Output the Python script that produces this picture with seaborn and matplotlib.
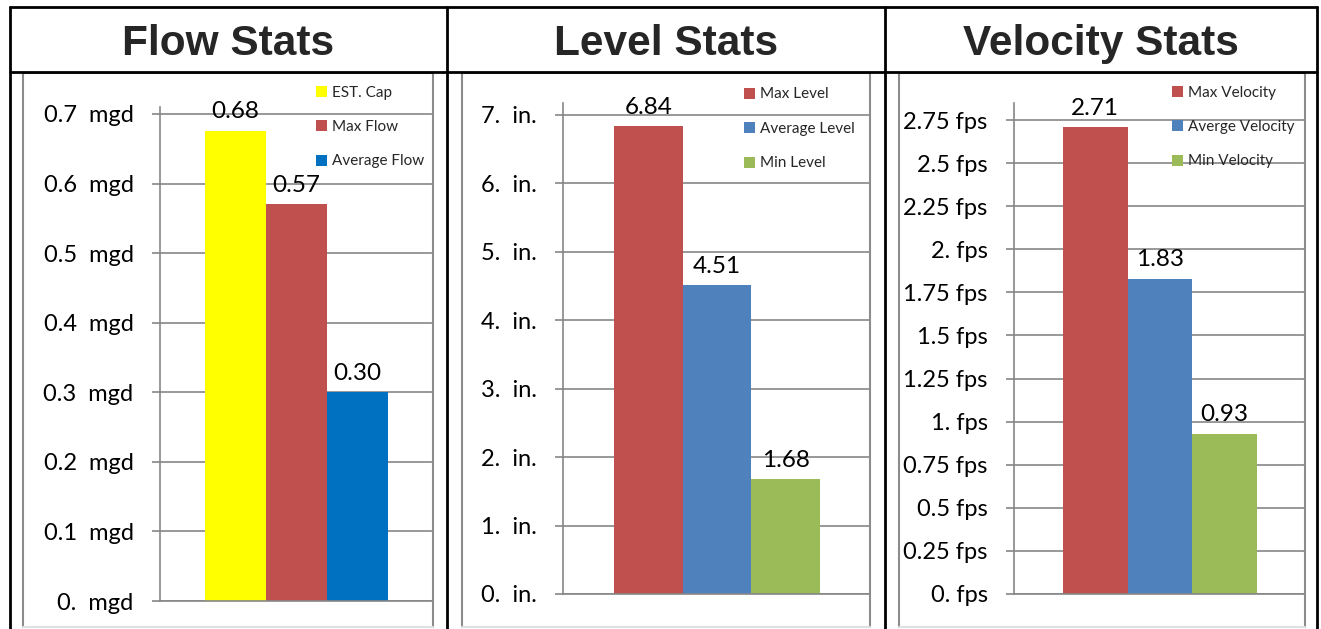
import matplotlib
matplotlib.use("Agg")
import matplotlib.pyplot as plt
import seaborn as sns
import pandas as pd
from matplotlib.patches import Patch
from matplotlib.lines import Line2D
from matplotlib.ticker import FixedLocator, FixedFormatter

# ---------------- data ----------------
titles = ["Flow Stats", "Level Stats", "Velocity Stats"]

flow_names = ["EST. Cap", "Max Flow", "Average Flow"]
flow_values = [0.676, 0.57, 0.30]
flow_ticks = [0, 0.1, 0.2, 0.3, 0.4, 0.5, 0.6, 0.7]
flow_tick_labels = ["0.  mgd", "0.1  mgd", "0.2  mgd", "0.3  mgd",
                    "0.4  mgd", "0.5  mgd", "0.6  mgd", "0.7  mgd"]

level_names = ["Max Level", "Average Level", "Min Level"]
level_values = [6.84, 4.51, 1.68]
level_ticks = [0, 1, 2, 3, 4, 5, 6, 7]
level_tick_labels = ["0.  in.", "1.  in.", "2.  in.", "3.  in.",
                     "4.  in.", "5.  in.", "6.  in.", "7.  in."]

velocity_names = ["Max Velocity", "Averge Velocity", "Min Velocity"]
velocity_values = [2.71, 1.83, 0.93]
velocity_ticks = [0, 0.25, 0.5, 0.75, 1.0, 1.25, 1.5, 1.75, 2.0, 2.25, 2.5, 2.75]
velocity_tick_labels = ["0. fps", "0.25 fps", "0.5 fps", "0.75 fps", "1. fps",
                        "1.25 fps", "1.5 fps", "1.75 fps", "2. fps", "2.25 fps",
                        "2.5 fps", "2.75 fps"]

# ---------------- styles ----------------
flow_colors = ["#FFFF00", "#C0504D", "#0070C0"]
level_colors = ["#C0504D", "#4F81BD", "#9BBB59"]
velocity_colors = ["#C0504D", "#4F81BD", "#9BBB59"]

sns.set_style("white")
plt.rcParams["font.family"] = ["Lato", "DejaVu Sans"]

W, H = 1321, 629
fig = plt.figure(figsize=(W / 100, H / 100), dpi=100)
fig.patch.set_facecolor("white")

GRID = "#868686"


def fx(x):
    return x / W


def fy(y):
    return 1 - y / H


# layout (pixels): axes box, bar extents, ylim top, legend anchor, frame
panels = [
    dict(names=flow_names, values=flow_values, colors=flow_colors,
         ticks=flow_ticks, labels=flow_tick_labels,
         ax=(160, 107, 432, 601), bars=(205, 388), ytop=0.71,
         leg=(316, 85.5), frame=(23, 73, 433, 627), title_x=228.5),
    dict(names=level_names, values=level_values, colors=level_colors,
         ticks=level_ticks, labels=level_tick_labels,
         ax=(563, 103, 869, 594), bars=(614, 820), ytop=7.175,
         leg=(744, 87.5), frame=(462, 73, 870, 627), title_x=666),
    dict(names=velocity_names, values=velocity_values, colors=velocity_colors,
         ticks=velocity_ticks, labels=velocity_tick_labels,
         ax=(1014, 103, 1304, 594), bars=(1063, 1257), ytop=2.849,
         leg=(1172, 85.5), frame=(899, 73, 1305, 627), title_x=1101),
]

for p in panels:
    l, t, r, b = p["ax"]
    ax = fig.add_axes([fx(l), fy(b), (r - l) / W, (b - t) / H])
    df = pd.DataFrame({"name": p["names"], "value": p["values"]})
    sns.barplot(data=df, x="name", y="value", hue="name", order=p["names"],
                hue_order=p["names"], palette=p["colors"], width=1.0,
                saturation=1, linewidth=0, legend=False, ax=ax)
    bl, br = p["bars"]
    unit = (br - bl) / 3.0
    ax.set_xlim(-0.5 - (bl - l) / unit, 2.5 + (r - br) / unit)
    ax.set_ylim(0, p["ytop"])
    ax.set_xlabel("")
    ax.set_ylabel("")
    ax.set_xticks([])
    ax.yaxis.set_major_locator(FixedLocator(p["ticks"]))
    ax.yaxis.set_major_formatter(FixedFormatter(p["labels"]))
    ax.tick_params(axis="y", left=True, length=6, width=1.2, color=GRID,
                   direction="out", pad=13, labelsize=17, labelcolor="black")
    ax.grid(axis="y", color=GRID, linewidth=1.2)
    ax.set_axisbelow(True)
    for s in ["top", "right"]:
        ax.spines[s].set_visible(False)
    for s in ["left", "bottom"]:
        ax.spines[s].set_color(GRID)
        ax.spines[s].set_linewidth(1.2)
    for c in ax.containers:
        ax.bar_label(c, fmt="%.2f", padding=6, fontsize=17.5, color="black")
    handles = [Patch(facecolor=c, edgecolor="none", label=n)
               for n, c in zip(p["names"], p["colors"])]
    lx, ly = p["leg"]
    ax.legend(handles=handles, loc="upper left",
              bbox_to_anchor=(fx(lx), fy(ly)), bbox_transform=fig.transFigure,
              frameon=False, fontsize=11, handlelength=0.72,
              handleheight=0.72, handletextpad=0.3, labelspacing=1.34,
              borderpad=0, borderaxespad=0)

    # chart frame
    fl, ft, fr, fb = p["frame"]
    for (x1, y1, x2, y2, col) in [(fl, ft, fr, ft, "#8c8c8c"),
                                  (fl, ft, fl, fb, "#8c8c8c"),
                                  (fr, ft, fr, fb, "#8c8c8c"),
                                  (fl, fb, fr, fb, "#e0e0e0")]:
        fig.add_artist(Line2D([fx(x1), fx(x2)], [fy(y1), fy(y2)],
                              color=col, lw=1.5, transform=fig.transFigure))

# table borders
for (x1, y1, x2, y2) in [(10, 7, 1317, 7), (10, 72, 1317, 72),
                         (10, 7, 10, 629), (447, 7, 447, 629),
                         (885, 7, 885, 629), (1317, 7, 1317, 629)]:
    fig.add_artist(Line2D([fx(x1), fx(x2)], [fy(y1), fy(y2)],
                          color="black", lw=2, transform=fig.transFigure))

for p, t in zip(panels, titles):
    fig.text(fx(p["title_x"]), fy(55), t, ha="center", va="baseline",
             fontsize=30.5, fontweight="bold",
             family=["Liberation Sans", "DejaVu Sans"])

fig.savefig("out.png", dpi=100, facecolor="white")
